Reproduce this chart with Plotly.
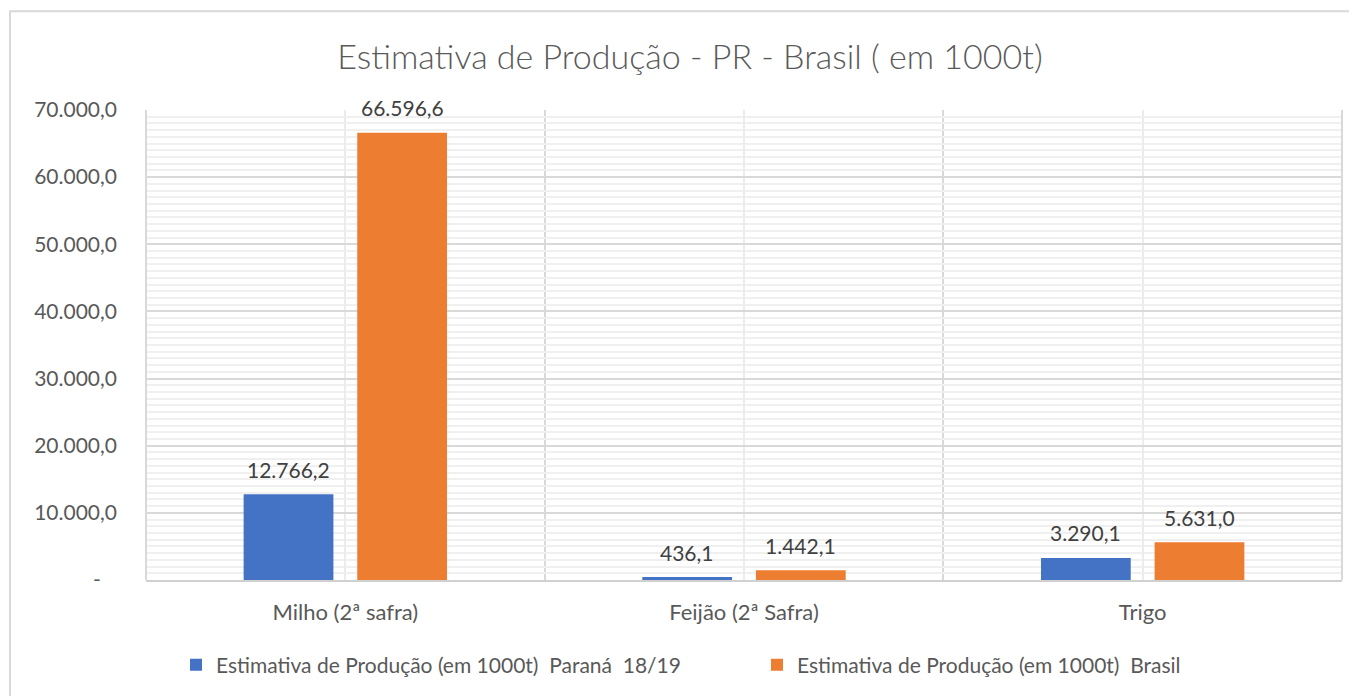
import plotly.graph_objects as go

# dados
categorias = ["Milho (2ª safra)", "Feijão (2ª Safra)", "Trigo"]
serie_parana = [12766.2, 436.1, 3290.1]
serie_brasil = [66596.6, 1442.1, 5631.0]
nome_parana = "Estimativa de Produção (em 1000t)  Paraná  18/19"
nome_brasil = "Estimativa de Produção (em 1000t)  Brasil"
y_ticks = [0, 10000, 20000, 30000, 40000, 50000, 60000, 70000]
y_ticktext = ["-\u00a0\u00a0\u00a0", "10.000,0", "20.000,0", "30.000,0",
              "40.000,0", "50.000,0", "60.000,0", "70.000,0"]

OFF = 8                      # margem padrao do body na pagina html
W, H = 1357 - OFF, 696 - OFF
ML, MR, MT, MB = 146 - OFF, 15, 110 - OFF, 115
FONTE = "Lato, 'Open Sans', sans-serif"
CINZA = "#595959"
BARGAP = 0.43


def fmt_br(v):
    s = f"{v:,.1f}"
    return s.replace(",", "X").replace(".", ",").replace("X", ".")


x_idx = list(range(len(categorias)))

fig = go.Figure()
fig.add_trace(go.Bar(x=x_idx, y=serie_parana, name=nome_parana,
                     marker=dict(color="#4472C4", line=dict(width=0))))
fig.add_trace(go.Bar(x=x_idx, y=serie_brasil, name=nome_brasil,
                     marker=dict(color="#ED7D31", line=dict(width=0))))

# rotulos de dados acima das barras
desloc = (1 - BARGAP) / 4
for i in x_idx:
    for serie, sinal in ((serie_parana, -1), (serie_brasil, 1)):
        fig.add_annotation(x=i + sinal * desloc, y=serie[i], text=fmt_br(serie[i]),
                           showarrow=False, yanchor="middle", yshift=25,
                           font=dict(family=FONTE, size=21, color="#404040"))

# borda externa do grafico (coordenadas em px da janela)
pw, ph = 1357 - 146 - MR, 696 - 110 - MB
fig.add_shape(type="rect", xref="paper", yref="paper", layer="below",
              x0=(10 - 146) / pw, x1=(1380 - 146) / pw,
              y0=(581 - 720) / ph, y1=(581 - 11) / ph,
              line=dict(color="#d9d9d9", width=2), fillcolor="rgba(0,0,0,0)")

fig.update_layout(
    width=W, height=H, autosize=False,
    margin=dict(l=ML, r=MR, t=MT, b=MB, pad=0),
    paper_bgcolor="white", plot_bgcolor="white",
    barmode="group", bargap=BARGAP, bargroupgap=0.21,
    title=dict(text="Estimativa de Produção - PR - Brasil ( em 1000t)",
               x=(690 - OFF) / W, y=1 - (57 - OFF) / H, xanchor="center", yanchor="middle",
               font=dict(family=FONTE, size=34, color=CINZA, weight=300)),
    font=dict(family=FONTE, size=21, color=CINZA),
    xaxis=dict(range=[-0.5, 2.5], tickvals=x_idx, ticktext=categorias,
               showgrid=True, gridcolor="#ececec", gridwidth=1.5,
               minor=dict(tickvals=[-0.5, 0.5, 1.5, 2.5], showgrid=True,
                          gridcolor="#d9d9d9", gridwidth=2),
               ticks="", ticklabelstandoff=12, zeroline=False,
               showline=True, linecolor="#d0d0d0", linewidth=2, mirror=False,
               tickfont=dict(size=22, color=CINZA), fixedrange=True),
    yaxis=dict(range=[0, 70000], tickvals=y_ticks, ticktext=y_ticktext,
               showgrid=True, gridcolor="#d9d9d9", gridwidth=2,
               minor=dict(dtick=1000, showgrid=True, gridcolor="#f0f0f0", gridwidth=1.5),
               ticks="", ticklabelstandoff=28, zeroline=False,
               tickfont=dict(size=21, color=CINZA), fixedrange=True),
    legend=dict(orientation="h", x=(176 - 146) / pw, xanchor="left",
                y=(581 - 665) / ph, yanchor="middle",
                font=dict(size=21, color=CINZA), itemwidth=30,
                entrywidth=536, traceorder="normal"),
)

fig.add_shape(type="line", xref="paper", yref="paper", x0=0, x1=0, y0=0, y1=1,
              line=dict(color="#d9d9d9", width=2))
fig.add_shape(type="line", xref="paper", yref="paper", x0=1, x1=1, y0=0, y1=1,
              line=dict(color="#d9d9d9", width=2))

fig.write_html("out.html")
